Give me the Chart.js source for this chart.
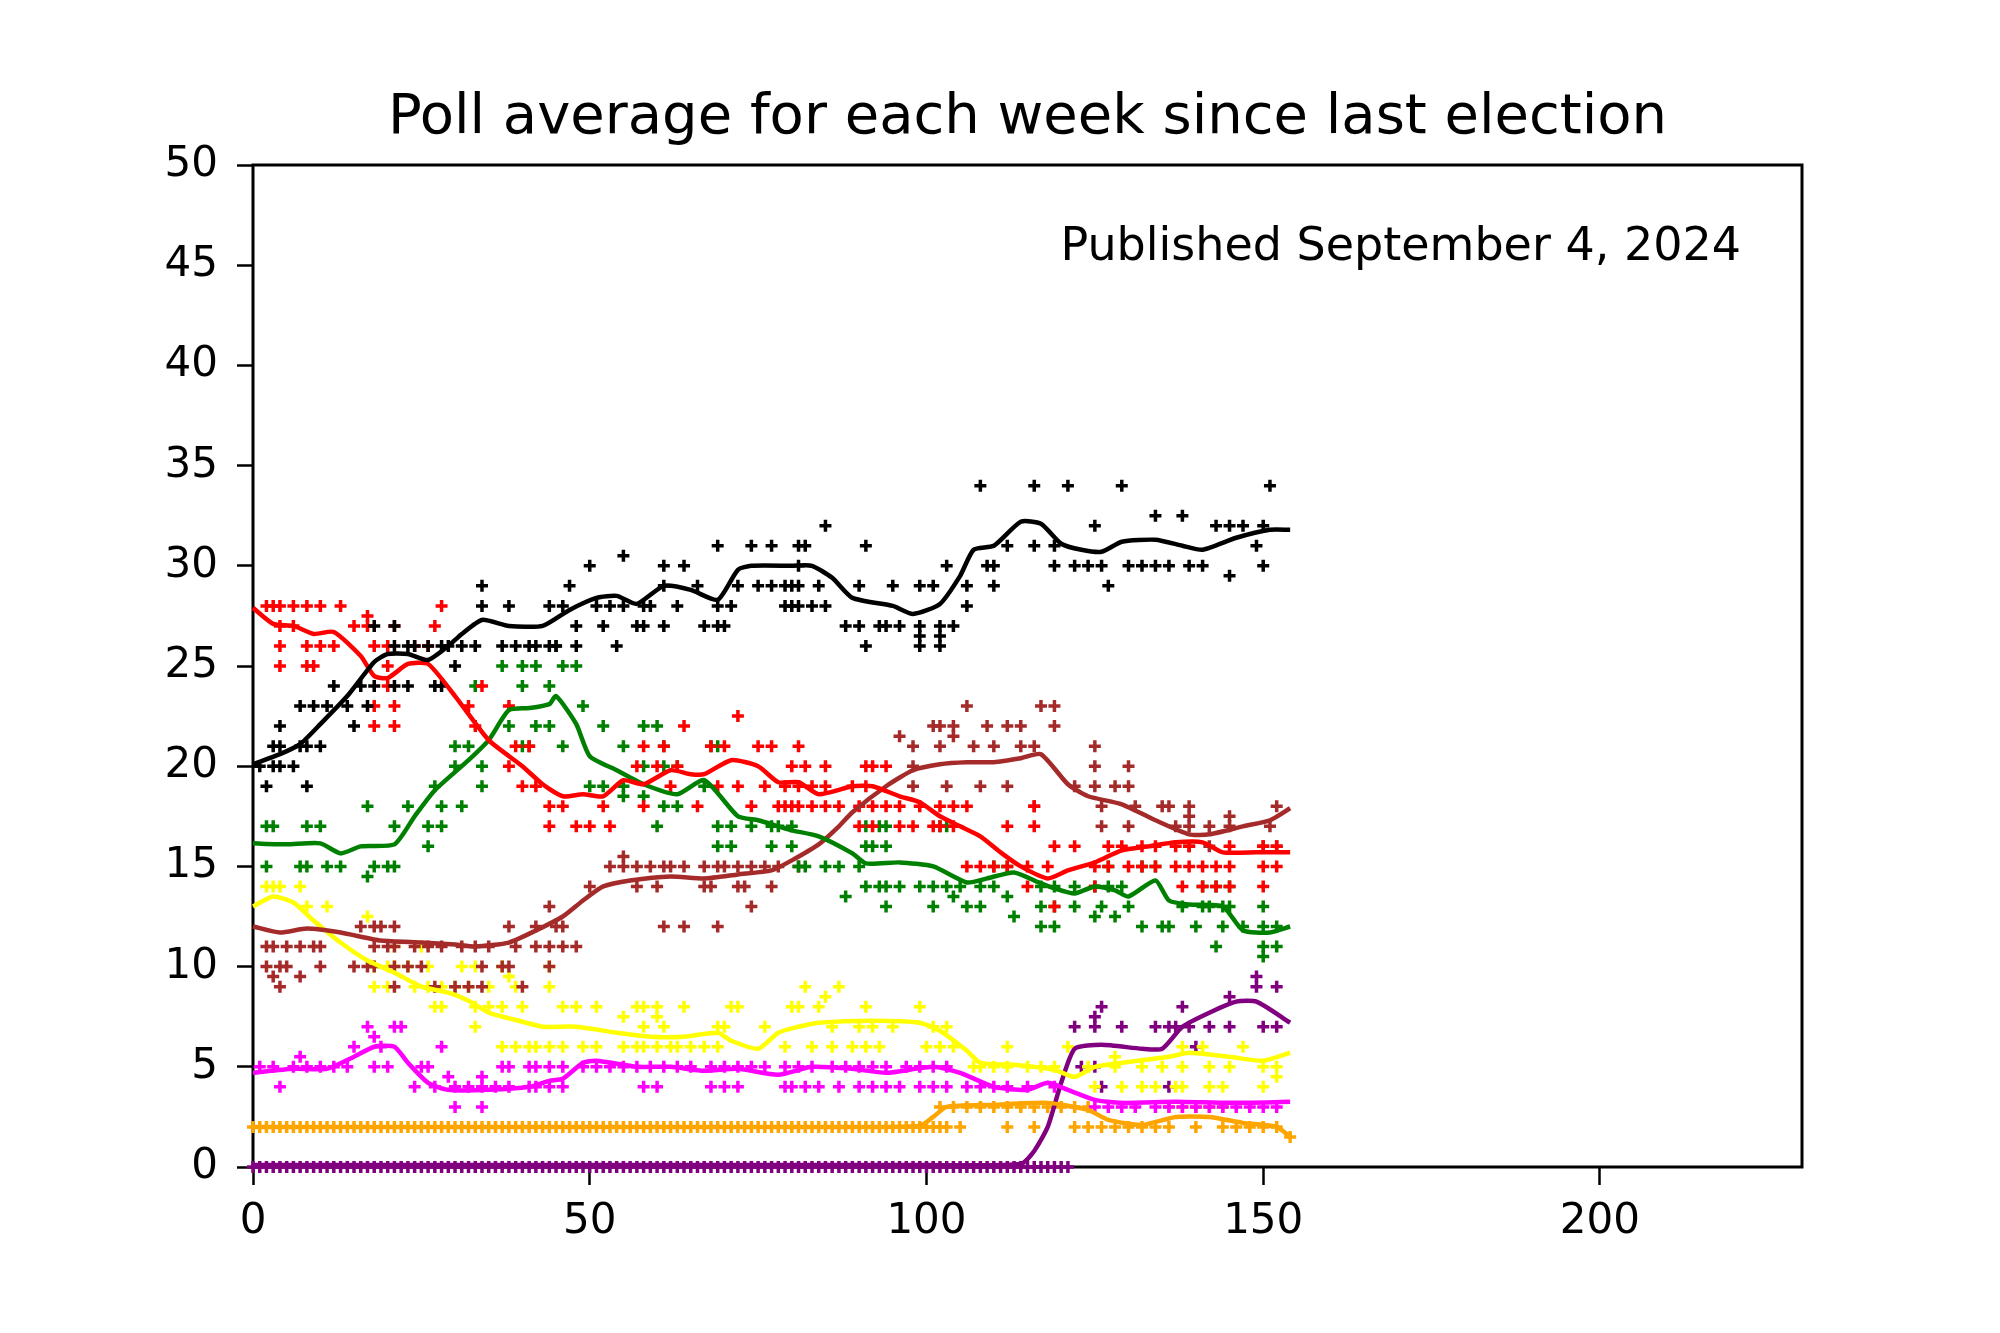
<!DOCTYPE html>
<html>
<head>
<meta charset="utf-8">
<title>Poll average for each week since last election</title>
<script src="https://cdn.jsdelivr.net/npm/chart.js@4/dist/chart.umd.min.js"></script>
<style>
  html, body { margin: 0; padding: 0; background: #fff; }
  #wrap { width: 2000px; height: 1333px; }
</style>
</head>
<body>
<div id="wrap"><canvas id="pollChart"></canvas></div>
<script>
// weekly average lines: [week, percent]
const blackLine = [[0,20.1],[4,20.6],[7,21.1],[10,22.1],[14,23.5],[18,25.2],[20,25.6],[23,25.6],[26,25.3],[29,26.0],[31,26.6],[34,27.3],[38,27.0],[43,27.0],[47,27.8],[51,28.4],[54,28.5],[57,28.1],[61,29.0],[65,28.8],[69,28.3],[72,29.8],[74,30.0],[80,30.0],[83,30.0],[86,29.4],[89,28.4],[95,28.0],[98,27.6],[102,28.1],[105,29.5],[107,30.8],[110,31.0],[114,32.2],[117,32.1],[120,31.1],[123,30.8],[126,30.7],[129,31.2],[134,31.3],[138,31.0],[141,30.8],[146,31.4],[151,31.8],[154,31.8]];
const redLine = [[0,27.9],[3,27.1],[6,27.0],[9,26.6],[12,26.7],[16,25.5],[18,24.5],[20,24.4],[23,25.1],[26,25.1],[30,23.5],[35,21.3],[40,20.0],[43,19.1],[46,18.5],[49,18.6],[52,18.5],[55,19.3],[58,19.1],[62,19.8],[65,19.6],[67,19.6],[71,20.3],[75,20.0],[78,19.2],[81,19.2],[84,18.6],[89,19.0],[92,19.0],[96,18.5],[99,18.2],[102,17.5],[105,17.0],[108,16.5],[111,15.7],[114,15.0],[118,14.4],[121,14.8],[125,15.2],[129,15.8],[133,16.0],[137,16.2],[141,16.2],[144,15.7],[149,15.7],[154,15.7]];
const greenLine = [[0,16.15],[5,16.1],[10,16.15],[13,15.65],[16,16.0],[21,16.1],[24,17.5],[27,18.8],[32,20.3],[35,21.3],[38,22.8],[41,22.9],[44,23.1],[45,23.5],[48,22.1],[50,20.5],[54,19.8],[58,19.1],[63,18.6],[67,19.3],[72,17.5],[75,17.3],[78,17.0],[80,16.8],[84,16.5],[89,15.65],[91,15.15],[96,15.2],[101,15.0],[106,14.2],[109,14.4],[113,14.7],[117,14.15],[119,13.9],[122,13.65],[125,14.0],[128,13.8],[130,13.5],[134,14.3],[136,13.3],[139,13.1],[144,13.0],[147,11.8],[151,11.7],[154,12.0]];
const brownLine = [[0,12.0],[4,11.7],[8,11.9],[13,11.7],[19,11.3],[25,11.2],[30,11.1],[33,11.0],[38,11.2],[42,11.8],[46,12.5],[49,13.3],[52,14.0],[56,14.3],[62,14.5],[67,14.4],[72,14.6],[77,14.8],[80,15.3],[84,16.1],[87,17.0],[89,17.7],[94,19.0],[98,19.8],[102,20.1],[106,20.2],[110,20.2],[114,20.4],[117,20.6],[121,19.1],[124,18.5],[129,18.1],[134,17.3],[139,16.6],[142,16.6],[147,17.0],[151,17.3],[154,17.9]];
const yellowLine = [[0,13.0],[3,13.5],[6,13.2],[9,12.3],[13,11.2],[17,10.3],[21,9.7],[25,9.0],[29,8.7],[32,8.3],[35,7.7],[40,7.25],[43,7.0],[48,7.0],[54,6.7],[59,6.5],[64,6.5],[69,6.7],[71,6.3],[75,5.9],[78,6.7],[81,7.0],[84,7.2],[92,7.3],[99,7.2],[102,6.8],[106,5.8],[108,5.2],[113,5.1],[119,4.85],[122,4.5],[125,5.0],[129,5.2],[136,5.5],[139,5.7],[145,5.5],[150,5.3],[154,5.7]];
const magentaLine = [[0,4.7],[6,4.9],[11,4.9],[15,5.5],[18,6.0],[21,6.0],[23,5.2],[26,4.2],[29,3.85],[35,3.85],[41,4.0],[44,4.3],[46,4.4],[49,5.2],[51,5.3],[57,5.0],[62,5.0],[67,4.8],[72,4.9],[78,4.6],[83,5.0],[89,4.9],[94,4.7],[101,5.0],[105,4.7],[110,4.0],[115,3.85],[118,4.2],[121,3.85],[125,3.35],[129,3.2],[137,3.25],[145,3.2],[154,3.25]];
const orangeLine = [[0,2.0],[20,2.0],[50,2.0],[80,2.0],[99,2.05],[101,2.5],[103,3.0],[110,3.1],[118,3.2],[124,2.85],[127,2.35],[132,2.1],[137,2.5],[142,2.5],[147,2.2],[152,2.0],[154,1.5]];
const purpleLine = [[0,0.1],[50,0.1],[100,0.1],[114,0.15],[116,0.8],[118,2.0],[120,4.2],[122,5.9],[126,6.1],[132,5.9],[135,5.9],[138,7.0],[142,7.7],[146,8.25],[149,8.25],[154,7.2]];

// individual polls: [percent, [weeks]]
const blackPolls = [
  [19,[2,8]], [20,[1,3,4,6]], [21,[3,4,7,8,10]], [22,[4,15]], [23,[7,9,11,14,17]],
  [24,[12,16,18,21,23,27,28]], [25,[30]],
  [26,[21,23,24,26,28,29,31,33,37,39,41,42,44,45,48,54,91,99,102]],
  [26.5,[99,102]],
  [27,[18,21,48,52,57,58,61,67,69,70,88,90,93,94,96,99,102,104]],
  [28,[34,38,44,46,51,53,55,58,59,63,69,71,79,80,81,83,85,106]],
  [29,[34,47,61,66,72,75,77,79,80,81,84,90,95,99,101,106,110,127]],
  [29.5,[145]],
  [30,[50,61,64,81,103,109,110,119,122,124,126,130,132,134,136,139,141,150]],
  [30.5,[55]],
  [31,[69,74,77,81,82,91,112,116,119,149]],
  [32,[85,125,143,145,147,150]], [32.5,[134,138]], [34,[108,116,121,129,151]]
];
const redPolls = [
  [28,[2,3,4,6,8,10,13,28]], [27.5,[17]], [27,[4,6,15,17,21,27]],
  [26,[4,8,10,12,18,20,24,26]], [25,[4,8,9,20]], [24,[20,34]], [23,[18,21,32,38]],
  [22,[18,21,33,64]], [22.5,[72]],
  [21,[39,41,58,61,68,70,75,77,81]],
  [20,[38,57,60,63,80,82,85,91,92,94]],
  [19,[40,42,62,69,72,76,79,81,83,85,89,91]],
  [18,[44,46,52,58,66,74,78,79,80,81,83,85,87,90,92,94,96,99,102,104,106,116]],
  [17,[44,48,50,53,90,92,96,98,101,102,104,112,116]],
  [16,[119,122,127,129,132,134,137,139,145,150,152]],
  [15,[106,108,110,112,115,118,125,127,130,132,134,137,139,141,143,145,150,152]],
  [14,[115,125,138,141,143,145,150]], [13,[119]]
];
const greenPolls = [
  [26,[45]], [25,[37,40,42,46,48]], [24,[33,40,44]], [23,[49]],
  [22,[38,42,44,52,58,60]], [21,[30,32,40,41,46,55,61,68,69]], [20,[30,34,58,61,63]],
  [19,[27,34,50,52,55,67]], [18.5,[55,58]], [18,[17,23,28,31,61,63]],
  [17,[2,3,8,10,21,26,28,60,69,71,74,77,78,80,91,93,94,102,103]],
  [16,[26,69,71,77,80,91,92,94]],
  [15,[2,7,8,11,13,18,20,21,81,82,85,87,90,110,112,127,132,134]], [14.5,[17]],
  [14,[91,93,94,96,99,101,103,105,108,110,117,119,122,125,127,129,141,143,145]],
  [13.5,[88,104,112]],
  [13,[94,101,106,108,117,119,122,126,130,138,141,142,144,145,150]],
  [12.5,[113,125,128]], [12,[117,119,132,135,136,140,144,147,150,152]],
  [11,[143,150,152]], [10.5,[150]]
];
const brownPolls = [
  [23,[106,117,119]], [22,[101,102,104,109,112,114,119]], [21.5,[96,104]],
  [21,[98,102,107,110,114,116,125]], [20,[98,125,130]],
  [19,[98,103,108,112,122,125,128,130]], [18,[116,126,131,135,136,139,152]],
  [17.5,[139,145]], [17,[126,130,137,139,142,145,151]], [16,[139,142,150,152]],
  [15.5,[55]], [15,[53,55,57,59,61,62,64,67,69,70,72,74,76,78,81]],
  [14,[50,57,60,67,68,72,73,77]], [13,[44,74]],
  [12,[16,18,19,21,38,42,45,46,61,64,69]],
  [11,[2,3,5,7,9,10,18,20,21,24,26,28,31,33,35,39,42,44,46,48]],
  [10,[2,4,5,10,15,17,18,21,23,25,34,37,38,44]], [9.5,[3,7]],
  [9,[4,21,27,30,32,34,40]]
];
const yellowPolls = [
  [14,[2,3,4,7]], [13,[8,11]], [12.5,[17]], [11,[21,25]],
  [10,[18,20,21,23,26,31,33,37,44]], [9.5,[38]],
  [9,[18,20,24,26,28,30,32,35,39,44,82,87]], [8.5,[85]],
  [8,[27,28,33,35,37,40,46,48,51,57,58,60,64,71,72,80,81,84,91,99]], [7.5,[55,60]],
  [7,[33,58,61,69,70,76,86,90,92,95,101,103]],
  [6,[37,39,41,42,44,46,49,51,55,57,58,60,62,63,65,67,69,79,83,86,89,91,93,100,102,104,112,121,138,141,147]],
  [5.5,[128]],
  [5,[107,108,110,112,115,117,119,124,128,132,135,138,142,145,150,152]], [4.5,[152]],
  [4,[125,129,132,134,137,138,142,144,150]]
];
const magentaPolls = [
  [7,[17,21,22]], [6.5,[18]], [6,[15,19,28]], [5.5,[7]],
  [5,[1,3,6,8,10,12,14,18,20,25,26,37,38,41,42,44,46,49,51,53,55,57,59,61,63,65,68,70,72,74,76,79,81,83,86,88,90,92,94,97,99,101,103]],
  [4.5,[29,34]],
  [4,[4,24,27,30,32,34,36,38,41,42,44,46,58,60,68,70,72,79,80,82,84,87,90,92,94,96,99,101,103,106,108,110,112,115,119]],
  [3,[30,34,125,127,129,131,134,136,138,140,142,144,146,148,150,152]]
];
const orangePolls = [
  [3,[102,104,106,108,110,112,114,116,118,120,122,124,136,138,140,142,144]],
  [2,[0,1,2,3,4,5,6,7,8,9,10,11,12,13,14,15,16,17,18,19,20,21,22,23,24,25,26,27,28,29,30,31,32,33,34,35,36,37,38,39,40,41,42,43,44,45,46,47,48,49,50,51,52,53,54,55,56,57,58,59,60,61,62,63,64,65,66,67,68,69,70,71,72,73,74,75,76,77,78,79,80,81,82,83,84,85,86,87,88,89,90,91,92,93,94,95,96,97,98,99,100,101,102,103,105,112,116,122,124,126,128,130,132,134,136,140,144,146,148,150,152]],
  [1.5,[154]]
];
const purplePolls = [
  [0,[0,1,2,3,4,5,6,7,8,9,10,11,12,13,14,15,16,17,18,19,20,21,22,23,24,25,26,27,28,29,30,31,32,33,34,35,36,37,38,39,40,41,42,43,44,45,46,47,48,49,50,51,52,53,54,55,56,57,58,59,60,61,62,63,64,65,66,67,68,69,70,71,72,73,74,75,76,77,78,79,80,81,82,83,84,85,86,87,88,89,90,91,92,93,94,95,96,97,98,99,100,101,102,103,104,105,106,107,108,109,110,111,112,113,114,115,116,117,118,119,120,121]],
  [4,[126,136]], [5,[123,125]], [6,[140]],
  [7,[122,125,129,134,136,137,139,142,145,150,152]], [7.5,[125]],
  [8,[126,138]], [8.5,[145]], [9,[149,152]], [9.5,[149]]
];

const xTicks = [0, 50, 100, 150, 200];
const yTicks = [0, 5, 10, 15, 20, 25, 30, 35, 40, 45, 50];
const titleText = 'Poll average for each week since last election';
const noteText = 'Published September 4, 2024';

const parties = [
  { color: '#000000', line: blackLine,   polls: blackPolls },
  { color: '#ff0000', line: redLine,     polls: redPolls },
  { color: '#008000', line: greenLine,   polls: greenPolls },
  { color: '#a52a2a', line: brownLine,   polls: brownPolls },
  { color: '#ffff00', line: yellowLine,  polls: yellowPolls },
  { color: '#ff00ff', line: magentaLine, polls: magentaPolls },
  { color: '#ffa500', line: orangeLine,  polls: orangePolls },
  { color: '#800080', line: purpleLine,  polls: purplePolls }
];

const FONT = '"DejaVu Sans", Roboto, sans-serif';

function fromRows(rows) {
  const pts = [];
  rows.forEach(([v, weeks]) => weeks.forEach(w => pts.push({ x: w, y: v })));
  return pts;
}

const datasets = [];
// lines first so they are painted over the poll markers
parties.forEach(p => {
  datasets.push({
    data: p.line.map(([x, y]) => ({ x, y })),
    showLine: true,
    borderColor: p.color,
    borderWidth: 4.5,
    pointRadius: 0,
    tension: 0.2,
    clip: false,
    order: 0
  });
});
parties.forEach(p => {
  datasets.push({
    data: fromRows(p.polls),
    showLine: false,
    pointStyle: 'cross',
    pointRadius: 6,
    pointBorderWidth: 3.5,
    borderColor: p.color,
    backgroundColor: p.color,
    clip: false,
    order: 1
  });
});

// axes box, title and annotation
const framePlugin = {
  id: 'frame',
  beforeDatasetsDraw(chart) {
    const { ctx, chartArea: a } = chart;
    ctx.save();
    ctx.strokeStyle = '#000';
    ctx.lineWidth = 3;
    ctx.strokeRect(a.left, a.top, a.right - a.left, a.bottom - a.top);
    ctx.restore();
  },
  afterDraw(chart) {
    const { ctx, chartArea: a } = chart;
    ctx.save();
    ctx.fillStyle = '#000';
    ctx.textBaseline = 'alphabetic';
    ctx.font = '56px ' + FONT;
    ctx.textAlign = 'center';
    ctx.fillText(titleText, (a.left + a.right) / 2, a.top - 32);
    ctx.font = '46px ' + FONT;
    ctx.textAlign = 'right';
    ctx.fillText(noteText, a.right - 61, a.top + 95);
    ctx.restore();
  }
};

new Chart(document.getElementById('pollChart'), {
  type: 'scatter',
  data: { datasets },
  plugins: [framePlugin],
  options: {
    responsive: true,
    maintainAspectRatio: false,
    animation: false,
    layout: { padding: { left: 0, right: 198, top: 165, bottom: 0 } },
    plugins: {
      legend: { display: false },
      tooltip: { enabled: false },
      title: { display: false }
    },
    scales: {
      x: {
        type: 'linear',
        min: 0,
        max: 230,
        afterFit: (s) => { s.height = 166; },
        afterBuildTicks: (s) => { s.ticks = xTicks.map(v => ({ value: v })); },
        border: { display: false },
        grid: { drawOnChartArea: false, drawTicks: true, tickLength: 18, tickWidth: 2.5, tickColor: '#000' },
        ticks: { color: '#000', font: { family: FONT, size: 42 }, padding: 12, maxRotation: 0 }
      },
      y: {
        type: 'linear',
        min: 0,
        max: 50,
        afterFit: (s) => { s.width = 253; },
        afterBuildTicks: (s) => { s.ticks = yTicks.map(v => ({ value: v })); },
        border: { display: false },
        grid: { drawOnChartArea: false, drawTicks: true, tickLength: 16, tickWidth: 2.5, tickColor: '#000' },
        ticks: { color: '#000', font: { family: FONT, size: 42 }, padding: 19 }
      }
    }
  }
});
</script>
</body>
</html>
